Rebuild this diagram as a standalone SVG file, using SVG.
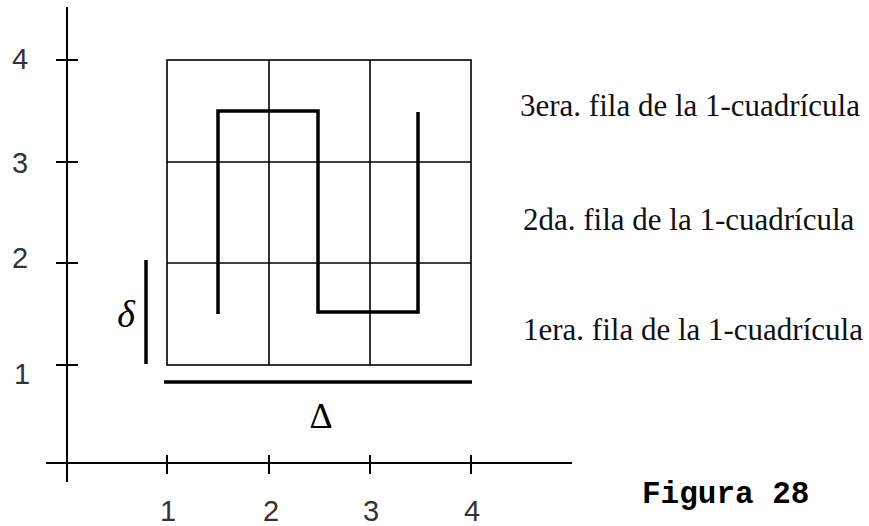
<svg xmlns="http://www.w3.org/2000/svg" width="869" height="526" viewBox="0 0 869 526">
<style>
.ax{stroke:#000;stroke-width:2;fill:none}
.grid{stroke:#000;stroke-width:1.6;fill:none}
.thick{stroke:#000;stroke-width:3.5;fill:none}
.num{font-family:"Liberation Sans","DejaVu Sans",sans-serif;font-size:29px;fill:#333;text-anchor:middle}
.lbl{font-family:"Liberation Serif","DejaVu Serif",serif;font-size:31px;fill:#111}
</style>
<rect width="869" height="526" fill="#fff"/>
<g id="axes">
<line class="ax" x1="67" y1="7" x2="67" y2="482"/>
<line class="ax" x1="46" y1="463" x2="572" y2="463"/>
<line class="ax" x1="56" y1="60" x2="78" y2="60"/>
<line class="ax" x1="56" y1="162" x2="78" y2="162"/>
<line class="ax" x1="56" y1="263" x2="78" y2="263"/>
<line class="ax" x1="56" y1="365" x2="78" y2="365"/>
<line class="ax" x1="167" y1="455" x2="167" y2="474"/>
<line class="ax" x1="269" y1="455" x2="269" y2="474"/>
<line class="ax" x1="370" y1="455" x2="370" y2="474"/>
<line class="ax" x1="471" y1="455" x2="471" y2="474"/>
<text class="num" x="20" y="69">4</text>
<text class="num" x="20" y="173">3</text>
<text class="num" x="20" y="268">2</text>
<text class="num" x="22" y="384">1</text>
<text class="num" x="168" y="521">1</text>
<text class="num" x="271" y="521">2</text>
<text class="num" x="371" y="521">3</text>
<text class="num" x="472" y="521">4</text>
</g>
<g id="grid">
<rect class="grid" x="167" y="60" width="304" height="305"/>
<line class="grid" x1="269" y1="60" x2="269" y2="365"/>
<line class="grid" x1="370" y1="60" x2="370" y2="365"/>
<line class="grid" x1="167" y1="162" x2="471" y2="162"/>
<line class="grid" x1="167" y1="263" x2="471" y2="263"/>
</g>
<g id="curve">
<path class="thick" d="M218,314 V111 H318 V312 H418 V112"/>
</g>
<g id="delta-small">
<line class="thick" x1="146" y1="260" x2="146" y2="364"/>
<text x="126" y="327" font-family="Liberation Serif,serif" font-style="italic" font-size="38" text-anchor="middle" fill="#000">δ</text>
</g>
<g id="delta-big">
<line class="thick" x1="164" y1="382" x2="472" y2="382" stroke-width="4"/>
<text x="321" y="428" font-family="Liberation Serif,serif" font-size="36" text-anchor="middle" fill="#000">Δ</text>
</g>
<g id="labels">
<text class="lbl" x="520" y="116">3era. fila de la 1-cuadrícula</text>
<text class="lbl" x="523" y="230">2da. fila de la 1-cuadrícula</text>
<text class="lbl" x="523" y="340">1era. fila de la 1-cuadrícula</text>
<text x="642" y="503" font-family="Liberation Mono,monospace" font-weight="bold" font-size="31" fill="#000">Figura 28</text>
</g>
</svg>
